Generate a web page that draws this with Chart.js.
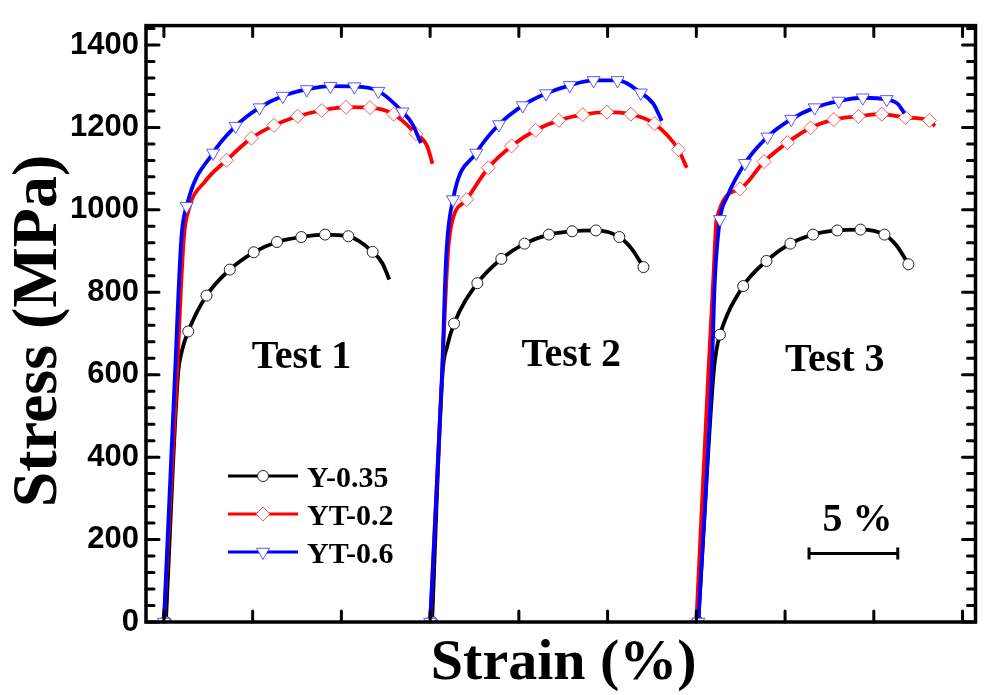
<!DOCTYPE html>
<html>
<head>
<meta charset="utf-8">
<script src="https://cdn.jsdelivr.net/npm/chart.js@4.4.0/dist/chart.umd.min.js"></script>
<style>
  html, body { margin: 0; padding: 0; background: #fff; }
  #wrap { width: 984px; height: 695px; }
</style>
</head>
<body>
<div id="wrap"><canvas id="c" width="984" height="695"></canvas></div>
<script>
// strain (%) is counted from the start of each test; tests are shifted along the axis
const TEST_NAMES = ['Test 1', 'Test 2', 'Test 3']
const TEST_OFFSETS = [0, 15, 30]
const SERIES_NAMES = ['Y-0.35', 'YT-0.2', 'YT-0.6']
const Y_TICKS = [0, 200, 400, 600, 800, 1000, 1200, 1400]
const X_TICKS = [0, 5, 10, 15, 20, 25, 30, 35, 40, 45]

// [strain %, stress MPa]; "marks" carry a symbol, "path" only shapes the curve
const y035_t1_marks = [[0.11, 0], [1.37, 705], [2.40, 792], [3.71, 855], [5.06, 897], [6.37, 922], [7.74, 934], [9.08, 940], [10.39, 936], [11.76, 898]]
const y035_t1_path = [[0.79, 598], [1.01, 657], [12.30, 871], [12.70, 831]]
const y035_t2_marks = [[0.11, 0], [1.35, 724], [2.66, 822], [4.01, 881], [5.32, 918], [6.69, 940], [8.00, 948], [9.34, 950], [10.66, 934], [12.02, 861]]
const y035_t2_path = [[0.69, 598], [0.96, 669], [11.35, 906]]
const y035_t3_marks = [[0.11, 0], [1.33, 697], [2.64, 815], [3.95, 876], [5.30, 918], [6.57, 940], [7.94, 950], [9.25, 952], [10.60, 940], [11.95, 868]]
const y035_t3_path = [[0.96, 598], [1.12, 657], [11.29, 913]]

const yt02_t1_marks = [[0, 0], [3.52, 1120], [4.93, 1174], [6.20, 1205], [7.54, 1227], [8.89, 1241], [10.26, 1249], [11.61, 1248], [12.94, 1232], [14.20, 1185]]
const yt02_t1_path = [[0.73, 598], [1.12, 930], [1.40, 1001], [2.30, 1068], [14.83, 1155], [15.13, 1112]]
const yt02_t2_marks = [[0, 0], [2.06, 1025], [3.28, 1102], [4.59, 1155], [5.94, 1193], [7.25, 1217], [8.60, 1231], [9.96, 1237], [11.31, 1232], [12.64, 1209], [13.99, 1146]]
const yt02_t2_path = [[0.67, 598], [0.98, 880], [1.17, 958], [14.46, 1102]]
const yt02_t3_marks = [[0, 0], [2.46, 1051], [3.82, 1117], [5.13, 1163], [6.44, 1199], [7.75, 1219], [9.14, 1227], [10.45, 1232], [11.78, 1224], [13.13, 1217]]
const yt02_t3_path = [[0.67, 598], [0.96, 835], [1.14, 977], [13.44, 1203]]

const yt06_t1_marks = [[0, 0], [1.28, 1009], [2.77, 1138], [4.04, 1203], [5.39, 1248], [6.70, 1276], [8.05, 1292], [9.38, 1300], [10.73, 1299], [12.08, 1288], [13.44, 1238]]
const yt06_t1_path = [[0.62, 598], [0.98, 930], [14.00, 1208], [14.48, 1162]]
const yt06_t2_marks = [[0, 0], [1.29, 1025], [2.60, 1138], [3.88, 1207], [5.22, 1253], [6.53, 1282], [7.87, 1302], [9.21, 1314], [10.56, 1314], [11.87, 1284]]
const yt06_t2_path = [[0.67, 598], [0.90, 883], [12.58, 1257], [13.05, 1216]]
const yt06_t3_marks = [[0.11, 0], [1.33, 977], [2.74, 1113], [4.01, 1177], [5.35, 1220], [6.67, 1248], [8.02, 1264], [9.38, 1272], [10.73, 1268]]
const yt06_t3_path = [[0.86, 598], [1.05, 835], [1.71, 1029], [11.35, 1257], [11.73, 1234]]

const SERIES = [
  { name: SERIES_NAMES[0], color: '#000000', edge: '#222222', style: 'circle', rot: 0, r: 5.5,
    tests: [[y035_t1_marks, y035_t1_path], [y035_t2_marks, y035_t2_path], [y035_t3_marks, y035_t3_path]] },
  { name: SERIES_NAMES[1], color: '#ff0000', edge: 'rgba(255,60,60,0.85)', style: 'rectRot', rot: 0, r: 7,
    tests: [[yt02_t1_marks, yt02_t1_path], [yt02_t2_marks, yt02_t2_path], [yt02_t3_marks, yt02_t3_path]] },
  { name: SERIES_NAMES[2], color: '#0000ff', edge: 'rgba(60,60,255,0.85)', style: 'triangle', rot: 180, r: 7.5,
    tests: [[yt06_t1_marks, yt06_t1_path], [yt06_t2_marks, yt06_t2_path], [yt06_t3_marks, yt06_t3_path]] }
]

function buildData(marks, path, off) {
  const pts = marks.map(p => ({ x: p[0] + off, y: p[1], sym: true }))
    .concat(path.map(p => ({ x: p[0] + off, y: p[1], sym: false })))
  return pts.sort((a, b) => a.x - b.x)
}

const datasets = []
SERIES.forEach((s, si) => {
  s.tests.forEach((t, ti) => {
    datasets.push({
      label: s.name,
      data: buildData(t[0], t[1], TEST_OFFSETS[ti]),
      borderColor: s.color,
      borderWidth: 3.8,
      cubicInterpolationMode: 'monotone',
      pointStyle: s.style,
      rotation: s.rot,
      pointRadius: ctx => (ctx.raw && ctx.raw.sym ? s.r : 0),
      pointBackgroundColor: '#ffffff',
      pointBorderColor: s.edge,
      pointBorderWidth: 1,
      order: 2 - si
    })
  })
})

const SERIF = "'Liberation Serif', 'Times New Roman', serif"

function marker(ctx, s, x, y) {
  ctx.save()
  ctx.fillStyle = '#fff'
  ctx.strokeStyle = s.edge
  ctx.lineWidth = 1
  ctx.beginPath()
  if (s.style === 'circle') {
    ctx.arc(x, y, s.r, 0, Math.PI * 2)
  } else if (s.style === 'rectRot') {
    ctx.moveTo(x, y - s.r); ctx.lineTo(x + s.r, y); ctx.lineTo(x, y + s.r); ctx.lineTo(x - s.r, y)
    ctx.closePath()
  } else {
    const h = s.r * 0.5, w = s.r * Math.sqrt(3) / 2
    ctx.moveTo(x - w, y - h); ctx.lineTo(x + w, y - h); ctx.lineTo(x, y + s.r)
    ctx.closePath()
  }
  ctx.fill(); ctx.stroke()
  ctx.restore()
}

const decor = {
  id: 'decor',
  afterDatasetsDraw(chart) {
    const { ctx, chartArea: a, scales: { x, y } } = chart
    ctx.save()
    // frame
    ctx.strokeStyle = '#000'
    ctx.lineWidth = 3.5
    ctx.strokeRect(a.left, a.top, a.right - a.left, a.bottom - a.top)
    // inward ticks
    ctx.lineCap = 'round'
    ctx.lineWidth = 3
    ctx.beginPath()
    X_TICKS.forEach(v => {
      const px = x.getPixelForValue(v)
      ctx.moveTo(px, a.bottom); ctx.lineTo(px, a.bottom - 11)
      ctx.moveTo(px, a.top); ctx.lineTo(px, a.top + 11)
    })
    for (let v = 0; v <= 1440; v += 40) {
      const py = y.getPixelForValue(v)
      const len = v % 200 === 0 ? 13 : 8
      ctx.moveTo(a.left, py); ctx.lineTo(a.left + len, py)
      ctx.moveTo(a.right, py); ctx.lineTo(a.right - len, py)
    }
    ctx.stroke()

    // axis titles
    ctx.fillStyle = '#000'
    ctx.font = 'bold 58px ' + SERIF
    ctx.textAlign = 'center'
    ctx.textBaseline = 'alphabetic'
    ctx.fillText('Strain (%)', (a.left + a.right) / 2 + 3, 679)
    ctx.save()
    ctx.translate(56, 331)
    ctx.rotate(-Math.PI / 2)
    ctx.font = 'bold 64px ' + SERIF
    ctx.fillText('Stress (MPa)', 0, 0)
    ctx.restore()

    // test labels
    ctx.font = 'bold 40px ' + SERIF
    const labelAt = [[7.75, 617], [7.95, 622], [7.8, 610]]
    TEST_NAMES.forEach((t, i) => {
      ctx.fillText(t, x.getPixelForValue(labelAt[i][0] + TEST_OFFSETS[i]), y.getPixelForValue(labelAt[i][1]))
    })

    // legend
    ctx.textAlign = 'left'
    ctx.font = 'bold 30px ' + SERIF
    SERIES.forEach((s, i) => {
      const ly = 476 + i * 38
      ctx.strokeStyle = s.color
      ctx.lineWidth = 3
      ctx.lineCap = 'butt'
      ctx.beginPath(); ctx.moveTo(228, ly); ctx.lineTo(298, ly); ctx.stroke()
      marker(ctx, s, 263, ly)
      ctx.fillStyle = '#000'
      ctx.fillText(s.name, 307, ly + 11)
    })

    // 5 % scale bar
    const x0 = x.getPixelForValue(36.35), x1 = x.getPixelForValue(41.35)
    const by = y.getPixelForValue(166)
    ctx.strokeStyle = '#000'
    ctx.lineWidth = 3
    ctx.beginPath()
    ctx.moveTo(x0, by); ctx.lineTo(x1, by)
    ctx.moveTo(x0, by - 6); ctx.lineTo(x0, by + 6)
    ctx.moveTo(x1, by - 6); ctx.lineTo(x1, by + 6)
    ctx.stroke()
    ctx.textAlign = 'center'
    ctx.font = 'bold 40px ' + SERIF
    ctx.fillText('5 %', (x0 + x1) / 2 + 4, by - 23)
    ctx.restore()
  }
}

new Chart(document.getElementById('c'), {
  type: 'line',
  data: { datasets: datasets },
  options: {
    responsive: false,
    animation: false,
    events: [],
    layout: { padding: { top: 12, right: 6, left: 0, bottom: 0 } },
    plugins: { legend: { display: false }, tooltip: { enabled: false } },
    scales: {
      x: {
        type: 'linear',
        min: -1.01,
        max: 45.73,
        ticks: { display: false },
        grid: { display: false, drawTicks: false },
        border: { display: false },
        afterFit: s => { s.height = 73 }
      },
      y: {
        type: 'linear',
        min: 0,
        max: 1447,
        afterBuildTicks: s => { s.ticks = Y_TICKS.map(v => ({ value: v })) },
        ticks: {
          color: '#000',
          padding: 7,
          font: { family: "'Liberation Sans', Arial, sans-serif", weight: 'bold', size: 31 },
          callback: v => String(v)
        },
        grid: { display: false, drawTicks: false },
        border: { display: false },
        afterFit: s => { s.width = 146 }
      }
    }
  },
  plugins: [decor]
})
</script>
</body>
</html>
